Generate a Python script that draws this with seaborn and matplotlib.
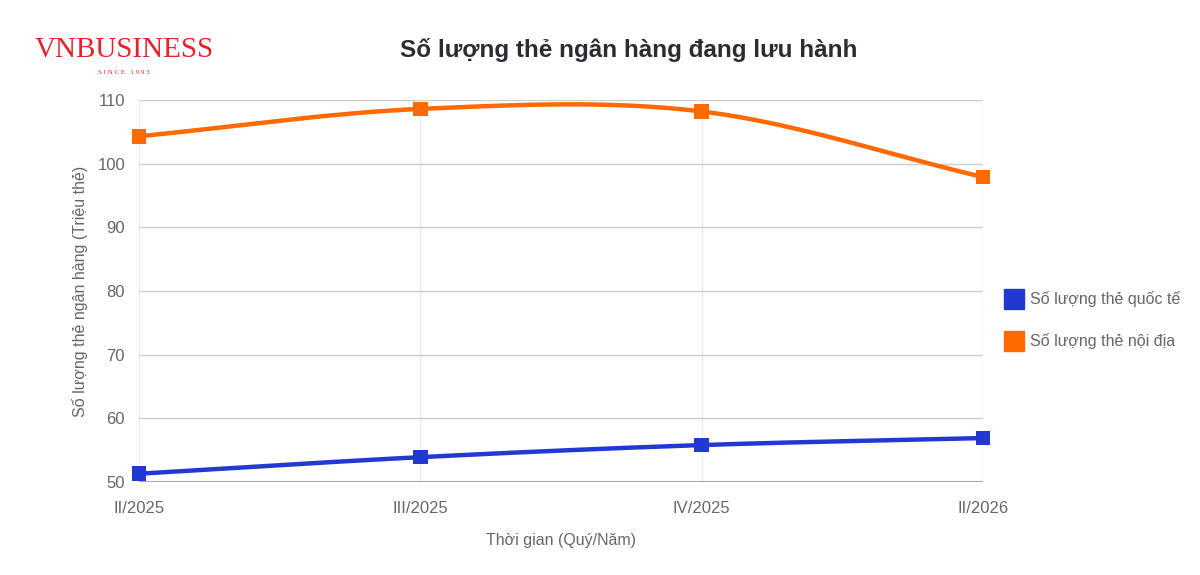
import numpy as np
import pandas as pd
import matplotlib
matplotlib.use("Agg")
import matplotlib.pyplot as plt
import seaborn as sns

categories = ["II/2025", "III/2025", "IV/2025", "II/2026"]
intl_cards = [51.3, 53.9, 55.8, 56.9]
domestic_cards = [104.3, 108.6, 108.2, 97.9]
series_names = ["Số lượng thẻ quốc tế", "Số lượng thẻ nội địa"]
colors = ["#2138D1", "#FF6A00"]
y_ticks = [50, 60, 70, 80, 90, 100, 110]


def smooth(xs, ys, n=60, t=0.5):
    xs = np.asarray(xs, float); ys = np.asarray(ys, float)
    px = np.concatenate([[2*xs[0]-xs[1]], xs, [2*xs[-1]-xs[-2]]])
    py = np.concatenate([[2*ys[0]-ys[1]], ys, [2*ys[-1]-ys[-2]]])
    ox, oy = [], []
    for i in range(1, len(px)-2):
        p0, p1, p2, p3 = py[i-1], py[i], py[i+1], py[i+2]
        m1 = t*(p2-p0); m2 = t*(p3-p1)
        s = np.linspace(0, 1, n, endpoint=(i == len(px)-3))
        h00 = 2*s**3-3*s**2+1; h10 = s**3-2*s**2+s
        h01 = -2*s**3+3*s**2; h11 = s**3-s**2
        oy.extend(h00*p1 + h10*m1 + h01*p2 + h11*m2)
        ox.extend(px[i] + s*(px[i+1]-px[i]))
    return np.array(ox), np.array(oy)


sns.set_theme(style="white")
plt.rcParams['font.family'] = ['Liberation Sans', 'DejaVu Sans']

fig = plt.figure(figsize=(12, 5.75), dpi=100)
ax = fig.add_axes([139/1200, 1-482/575, (983-139)/1200, (482-100)/575])

xpos = np.arange(len(categories))
rows = []
for name, vals in zip(series_names, [intl_cards, domestic_cards]):
    sx, sy = smooth(xpos, vals)
    rows.append(pd.DataFrame({"x": sx, "y": sy, "series": name}))
curve = pd.concat(rows, ignore_index=True)
pts = pd.concat([pd.DataFrame({"x": xpos, "y": v, "series": n})
                 for n, v in zip(series_names, [intl_cards, domestic_cards])],
                ignore_index=True)

palette = dict(zip(series_names, colors))
sns.lineplot(data=curve, x="x", y="y", hue="series", palette=palette,
             linewidth=3.2, ax=ax, legend=False, sort=False, zorder=3,
             estimator=None)
sns.scatterplot(data=pts, x="x", y="y", hue="series", palette=palette,
                marker="s", s=110, linewidth=0, ax=ax, legend=False,
                zorder=4, clip_on=False)

ax.set_xlim(0, 3)
ax.set_ylim(50, 110)
ax.set_yticks(y_ticks)
ax.set_xticks(xpos)
ax.set_xticklabels(categories)
for s in ax.spines.values():
    s.set_visible(False)
ax.grid(True, axis="y", color="#cccccc", linewidth=1)
ax.grid(True, axis="x", color="#ebebeb", linewidth=1)
ax.axhline(50, color="#aaaaaa", linewidth=1.5, zorder=2)
ax.tick_params(axis="both", colors="#666666", labelsize=12, length=0)
ax.tick_params(axis="x", pad=14)
ax.tick_params(axis="y", pad=10)
ax.set_xlabel("Thời gian (Quý/Năm)", color="#666666", fontsize=11.5, labelpad=12)
ax.set_ylabel("Số lượng thẻ ngân hàng (Triệu thẻ)", color="#666666", fontsize=11.5, labelpad=7)

fig.text(629/1200, 1-50/575, "Số lượng thẻ ngân hàng đang lưu hành",
         ha="center", va="center", fontsize=17.5, fontweight="bold", color="#2b2b33")

# Legend
for i, (name, c) in enumerate(zip(series_names, colors)):
    yc = 1 - (299 + i*42)/575
    fig.patches.append(plt.Rectangle((1004/1200, yc - 10/575), 20/1200, 20/575,
                                     transform=fig.transFigure, color=c))
    fig.text(1030/1200, yc, name, ha="left", va="center", fontsize=11.5, color="#666666")

# Logo
fig.text(124/1200, 1-50/575, "VNBUSINESS", ha="center", va="center",
         fontsize=21, color="#E3222B", family="Liberation Serif")
fig.text(124/1200, 1-73/575, "S I N C E   1 9 9 3", ha="center", va="center",
         fontsize=5, color="#E3222B", family="Liberation Serif")

fig.savefig("out.png", dpi=100, facecolor="white")
